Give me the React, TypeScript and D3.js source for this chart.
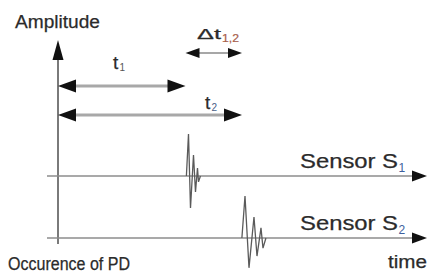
import React from "react";
import * as d3 from "d3";

// ---- data ----
const sensors = ["S1", "S2"];
const arrivalTimes = [35, 50]; // time of arrival at each sensor (t1, t2), origin = occurrence of PD
const timeDomain = [0, 100];
// damped oscillation of each received pulse: [time offset after arrival, amplitude]
const pulseS1: [number, number][] = [
  [-0.3, 0], [0.27, 10], [0.81, -7.6], [1.62, 5], [2.16, -3.8], [2.7, 1.9], [2.97, -1.4], [3.5, 0],
];
const pulseS2: [number, number][] = [
  [-0.3, 0], [0.54, 10], [1.62, -7.1], [2.97, 5], [3.78, -4.3], [4.86, 2.4], [5.4, -2.4], [6.2, 0],
];
const pulses = [pulseS1, pulseS2];
const labels = {
  yAxis: "Amplitude",
  xAxis: "time",
  origin: "Occurence of PD",
  sensor: "Sensor S",
};

const W = 428;
const H = 273;

function head(tipX: number, tipY: number, dir: "left" | "right" | "up", len: number, half: number) {
  if (dir === "right") return `M${tipX},${tipY}L${tipX - len},${tipY - half}L${tipX - len},${tipY + half}Z`;
  if (dir === "left") return `M${tipX},${tipY}L${tipX + len},${tipY - half}L${tipX + len},${tipY + half}Z`;
  return `M${tipX},${tipY}L${tipX - half},${tipY + len}L${tipX + half},${tipY + len}Z`;
}

export default function App() {
  const x = d3.scaleLinear().domain(timeDomain).range([58, 428]);
  const yBase = d3.scalePoint<string>().domain(sensors).range([176, 238]);
  const amp = d3.scaleLinear().domain([-10, 10]).range([42, -42]);

  const x0 = x(0);
  const xEnd = x(timeDomain[1]);
  const xt1 = x(arrivalTimes[0]);
  const xt2 = x(arrivalTimes[1]);

  const ft = "'Liberation Sans', Arial, Helvetica, sans-serif";
  const txt = "#2b2b2b";
  const heavy = { stroke: txt, strokeWidth: 0.25 } as const;

  const arrows = [
    { y: 86, from: x0, to: xt1 - 2, w: 3, c: "#a8a8a8", len: 18, half: 6.5 },
    { y: 115, from: x0, to: xt2 - 1, w: 3, c: "#a8a8a8", len: 18, half: 6.5 },
    { y: 53, from: xt1 - 2, to: xt2 - 1, w: 1.6, c: "#8a8a8a", len: 14, half: 5 },
  ];

  return (
    <svg
      width={W}
      height={H}
      style={{ position: "absolute", left: 0, top: 0, background: "#fff" }}
      fontFamily={ft}
    >
      {/* vertical axis */}
      <line x1={x0} x2={x0} y1={244} y2={55} stroke="#7a7a7a" strokeWidth={2} />
      <path d={head(x0, 40, "up", 20, 5.5)} fill="#111" />

      {/* sensor base lines */}
      {sensors.map((s) => (
        <g key={s}>
          <line x1={47} x2={xEnd - 10} y1={yBase(s)} y2={yBase(s)} stroke="#8c8c8c" strokeWidth={1.6} />
          <path d={head(xEnd - 1, yBase(s)!, "right", 15, 5.5)} fill="#111" />
        </g>
      ))}

      {/* pulses */}
      {sensors.map((s, i) => {
        const line = d3
          .line<[number, number]>()
          .x((d) => x(arrivalTimes[i] + d[0]))
          .y((d) => yBase(s)! + amp(d[1]))
          .curve(d3.curveLinear);
        return <path key={s} d={line(pulses[i]) || ""} fill="none" stroke="#5a5a5a" strokeWidth={1.3} />;
      })}

      {/* time arrows */}
      {arrows.map((a, i) => (
        <g key={i}>
          <line x1={a.from + a.len - 2} x2={a.to - a.len + 2} y1={a.y} y2={a.y} stroke={a.c} strokeWidth={a.w} />
          <path d={head(a.from, a.y, "left", a.len, a.half)} fill="#111" />
          <path d={head(a.to, a.y, "right", a.len, a.half)} fill="#111" />
        </g>
      ))}

      {/* labels */}
      <text x={15} y={28} fontSize={18} fill={txt} {...heavy} textLength={85} lengthAdjust="spacingAndGlyphs">
        {labels.yAxis}
      </text>

      <text x={113} y={69} fontSize={19} fill={txt} {...heavy}>t</text>
      <text x={119.5} y={71} fontSize={10} fill="#555">1</text>

      <text x={205} y={109} fontSize={19} fill={txt} {...heavy}>t</text>
      <text x={211.5} y={111} fontSize={10} fill="#4a6088">2</text>

      <text x={197} y={39} fontSize={15} fill={txt} {...heavy} textLength={24} lengthAdjust="spacingAndGlyphs">Δt</text>
      <text x={222} y={42} fontSize={11} fill="#a8604c" stroke="#a8604c" strokeWidth={0.2} textLength={17} lengthAdjust="spacingAndGlyphs">1,2</text>

      {sensors.map((s, i) => (
        <g key={s}>
          <text x={300} y={yBase(s)! - 8} fontSize={21} fill={txt} {...heavy} textLength={98} lengthAdjust="spacingAndGlyphs">
            {labels.sensor}
          </text>
          <text x={398.5} y={yBase(s)! - 4} fontSize={12} fill="#3d5f9e">
            {i + 1}
          </text>
        </g>
      ))}

      <text x={388} y={268} fontSize={18} fill={txt} {...heavy} textLength={39} lengthAdjust="spacingAndGlyphs">
        {labels.xAxis}
      </text>
      <text x={8} y={270} fontSize={18} fill={txt} {...heavy} textLength={122} lengthAdjust="spacingAndGlyphs">
        {labels.origin}
      </text>
    </svg>
  );
}
